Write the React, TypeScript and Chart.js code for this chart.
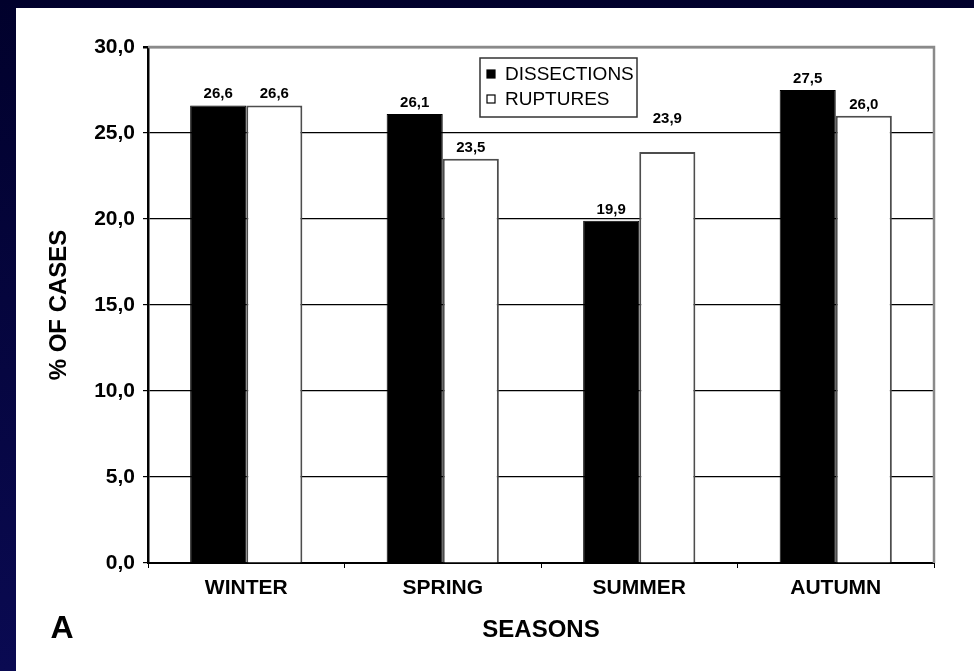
import React, { useEffect, useRef } from "react";
import { Chart, registerables } from "chart.js";

Chart.register(...registerables);

// ---- data ----
const seasons = ["WINTER", "SPRING", "SUMMER", "AUTUMN"];
const seriesNames = ["DISSECTIONS", "RUPTURES"];
const dissections = [26.6, 26.1, 19.9, 27.5];
const ruptures = [26.6, 23.5, 23.9, 26.0];
const yMin = 0;
const yMax = 30;
const yStep = 5;
const yTitle = "% OF CASES";
const xTitle = "SEASONS";
const panelLetter = "A";

const FONT = "'Liberation Sans', Arial, Helvetica, sans-serif";
const fmt = (v: number) => v.toFixed(1).replace(".", ",");

const backgroundPlugin = {
  id: "bgPanel",
  beforeDraw(chart: any) {
    const { ctx, width, height } = chart;
    ctx.save();
    const g = ctx.createLinearGradient(0, 0, 0, height);
    g.addColorStop(0, "#01012c");
    g.addColorStop(1, "#0a0a52");
    ctx.fillStyle = g;
    ctx.fillRect(0, 0, width, height);
    ctx.fillStyle = "#ffffff";
    ctx.fillRect(16, 8, width - 16, height - 8);
    ctx.restore();
  },
};

const framePlugin = {
  id: "frame",
  beforeDatasetsDraw(chart: any) {
    const { ctx, chartArea } = chart;
    ctx.save();
    ctx.strokeStyle = "#8a8a8a";
    ctx.lineWidth = 2.5;
    ctx.beginPath();
    ctx.moveTo(chartArea.left, chartArea.top);
    ctx.lineTo(chartArea.right, chartArea.top);
    ctx.lineTo(chartArea.right, chartArea.bottom);
    ctx.stroke();
    ctx.restore();
  },
};

const valueLabelPlugin = {
  id: "valueLabels",
  afterDatasetsDraw(chart: any, _args: any, opts: any) {
    const { ctx } = chart;
    const raise = (opts && opts.raise) || {};
    ctx.save();
    ctx.font = `bold 15px ${FONT}`;
    ctx.fillStyle = "#000";
    ctx.textAlign = "center";
    ctx.textBaseline = "alphabetic";
    chart.data.datasets.forEach((ds: any, di: number) => {
      const meta = chart.getDatasetMeta(di);
      meta.data.forEach((el: any, i: number) => {
        const extra = raise[`${di}-${i}`] || 0;
        ctx.fillText(fmt(ds.data[i]), el.x, el.y - 7 - extra);
      });
    });
    ctx.restore();
  },
};

const insideLegendPlugin = {
  id: "insideLegend",
  afterDraw(chart: any) {
    const { ctx, chartArea } = chart;
    const bx = chartArea.left + 332;
    const by = chartArea.top + 11;
    const bw = 157;
    const bh = 59;
    ctx.save();
    ctx.fillStyle = "#fff";
    ctx.fillRect(bx, by, bw, bh);
    ctx.strokeStyle = "#333";
    ctx.lineWidth = 1.5;
    ctx.strokeRect(bx, by, bw, bh);
    ctx.font = `19px ${FONT}`;
    ctx.textBaseline = "middle";
    ctx.textAlign = "left";
    chart.data.datasets.forEach((ds: any, i: number) => {
      const ry = by + 16 + i * 25;
      ctx.fillStyle = ds.backgroundColor;
      ctx.fillRect(bx + 7, ry - 4, 8, 8);
      ctx.strokeStyle = "#000";
      ctx.lineWidth = 1.2;
      ctx.strokeRect(bx + 7, ry - 4, 8, 8);
      ctx.fillStyle = "#000";
      ctx.fillText(ds.label, bx + 25, ry + 1);
    });
    ctx.restore();
  },
};

const letterPlugin = {
  id: "panelLetter",
  afterDraw(chart: any) {
    const { ctx } = chart;
    ctx.save();
    ctx.font = `bold 32px ${FONT}`;
    ctx.fillStyle = "#000";
    ctx.textAlign = "center";
    ctx.textBaseline = "middle";
    ctx.fillText(panelLetter, 62, 629);
    ctx.restore();
  },
};

export default function App() {
  const canvasRef = useRef<HTMLCanvasElement | null>(null);

  useEffect(() => {
    const canvas = canvasRef.current;
    if (!canvas) return;
    const chart = new Chart(canvas, {
      type: "bar",
      data: {
        labels: seasons,
        datasets: [
          {
            label: seriesNames[0],
            data: dissections,
            backgroundColor: "#000000",
            borderColor: "#000000",
            borderWidth: 1,
            categoryPercentage: 0.571,
            barPercentage: 1,
          },
          {
            label: seriesNames[1],
            data: ruptures,
            backgroundColor: "#ffffff",
            borderColor: "#4d4d4d",
            borderWidth: 2,
            categoryPercentage: 0.571,
            barPercentage: 1,
          },
        ],
      },
      options: {
        responsive: false,
        animation: false,
        devicePixelRatio: 1,
        layout: { padding: { top: 47, right: 40, left: 0, bottom: 0 } },
        plugins: {
          legend: { display: false },
          tooltip: { enabled: false },
          valueLabels: { raise: { "1-2": 22 } },
        } as any,
        scales: {
          x: {
            type: "category",
            offset: true,
            grid: {
              display: true,
              drawOnChartArea: false,
              drawTicks: true,
              tickLength: 5,
              color: "#000",
              offset: true,
            },
            border: { color: "#000", width: 2 },
            ticks: {
              color: "#000",
              font: { family: FONT, size: 21, weight: "bold" },
              padding: 8,
              maxRotation: 0,
            },
            title: {
              display: true,
              text: xTitle,
              color: "#000",
              font: { family: FONT, size: 24, weight: "bold" },
              padding: { top: 0, bottom: 26 },
            },
            afterFit: (s: any) => {
              s.height = 108;
            },
          },
          y: {
            min: yMin,
            max: yMax,
            grid: {
              color: (c: any) => (c.tick && c.tick.value === yMax ? "#8a8a8a" : "#000"),
              lineWidth: (c: any) => (c.tick && c.tick.value === yMax ? 2.5 : 1.2),
              tickColor: "#000",
              tickLength: 5,
            },
            border: { color: "#000", width: 2.5 },
            ticks: {
              stepSize: yStep,
              color: "#000",
              font: { family: FONT, size: 21, weight: "bold" },
              padding: 8,
              callback: (v: any) => fmt(Number(v)),
            },
            title: {
              display: true,
              text: yTitle,
              color: "#000",
              font: { family: FONT, size: 24, weight: "bold" },
              padding: { top: 45, bottom: 0 },
            },
            afterFit: (s: any) => {
              s.width = 148;
            },
          },
        },
      } as any,
      plugins: [backgroundPlugin, framePlugin, valueLabelPlugin, insideLegendPlugin, letterPlugin],
    });
    return () => chart.destroy();
  }, []);

  return (
    <div style={{ position: "fixed", left: 0, top: 0, width: 974, height: 671 }}>
      <canvas ref={canvasRef} width={974} height={671} style={{ display: "block", width: 974, height: 671 }} />
    </div>
  );
}
